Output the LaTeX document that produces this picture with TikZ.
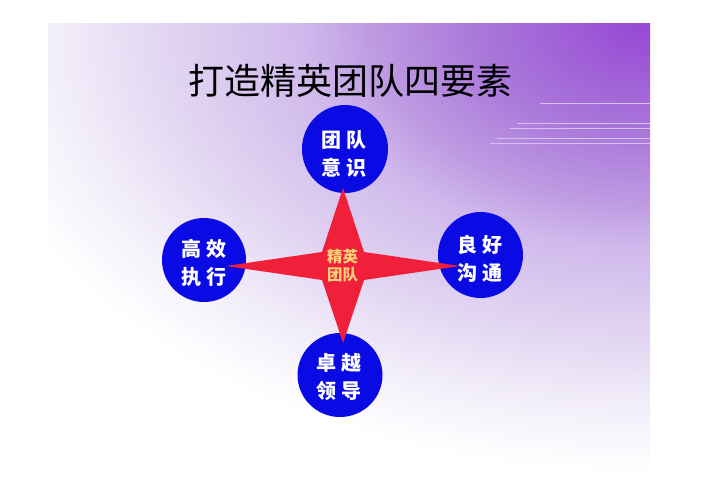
\documentclass[tikz,border=0pt]{standalone}
\usepackage{fontspec}
\setmainfont{Noto Sans CJK SC}
\usetikzlibrary{shapes.geometric}
\definecolor{bgA}{RGB}{150,70,212}
\definecolor{bgB}{RGB}{170,120,218}
\definecolor{bgC}{RGB}{190,155,226}
\definecolor{bgD}{RGB}{208,185,236}
\definecolor{bgE}{RGB}{226,214,242}
\definecolor{bgF}{RGB}{243,239,250}
\definecolor{bblue}{RGB}{10,10,228}
\definecolor{sred}{RGB}{240,32,58}
\definecolor{cyel}{RGB}{255,210,120}
\definecolor{hlc}{RGB}{214,192,245}
\pgfdeclareradialshading{slidebg}{\pgfpoint{0bp}{0bp}}{color(0bp)=(bgA); color(6.25bp)=(bgB); color(10bp)=(bgC); color(12.5bp)=(bgD); color(17.5bp)=(bgE); color(21.5bp)=(bgF); color(25bp)=(white); color(50bp)=(white)}
\tikzset{
  bubble/.style={ellipse, fill=bblue, draw=none, inner sep=0pt},
  circtext/.style={text=white, align=center, inner sep=0pt, font=\bfseries\fontsize{20pt}{28pt}\selectfont},
  startext/.style={text=cyel, align=center, inner sep=0pt, font=\bfseries\fontsize{15.5pt}{18pt}\selectfont},
  titletext/.style={text=black, inner sep=0pt, anchor=base, font=\fontsize{36pt}{40pt}\selectfont},
  hline/.style={draw=hlc, line width=1pt},
  starshape/.style={fill=sred, draw=none}
}
\begin{document}
\begin{tikzpicture}[x=1pt,y=-1pt]
\useasboundingbox (0,0) rectangle (702,496);
\fill[white] (0,0) rectangle (702,496);
% slide background
\begin{scope}
  \clip (48,23) rectangle (650,468);
  \shade[shading=slidebg] (650,23) ellipse [x radius=700pt, y radius=450pt];
\end{scope}
% decorative lines
\draw[hline] (540,103) -- (650,103);
\draw[hline] (517,123) -- (650,123);
\draw[hline] (510,128) -- (650,128);
\draw[hline] (497,138) -- (650,138);
\draw[hline] (490,143) -- (650,143);
% title
\node[titletext] (title) at (350.5,94.7) {打造精英团队四要素};
% circles
\node[bubble, minimum width=86pt, minimum height=88pt] (c1) at (345,149) {};
\node[bubble, minimum width=84pt, minimum height=84pt] (c2) at (204,260) {};
\node[bubble, minimum width=85pt, minimum height=86pt] (c3) at (480.5,255) {};
\node[bubble, minimum width=85pt, minimum height=84pt] (c4) at (340,375) {};
% star
\fill[starshape] (343,188) -- (364,252) -- (460,266) -- (364,280) -- (343,343) -- (322,280) -- (226,266) -- (322,252) -- cycle;
\node[startext] (t0) at (342.7,266) {精英\\团队};
% circle texts
\node[circtext] (t1) at (344,153.5) {团\hspace{5pt}队\\意\hspace{5pt}识};
\node[circtext] (t2) at (204,262.5) {高\hspace{5pt}效\\执\hspace{5pt}行};
\node[circtext] (t3) at (479.5,258.5) {良\hspace{5pt}好\\沟\hspace{5pt}通};
\node[circtext] (t4) at (338.5,377) {卓\hspace{5pt}越\\领\hspace{5pt}导};
\end{tikzpicture}
\end{document}
